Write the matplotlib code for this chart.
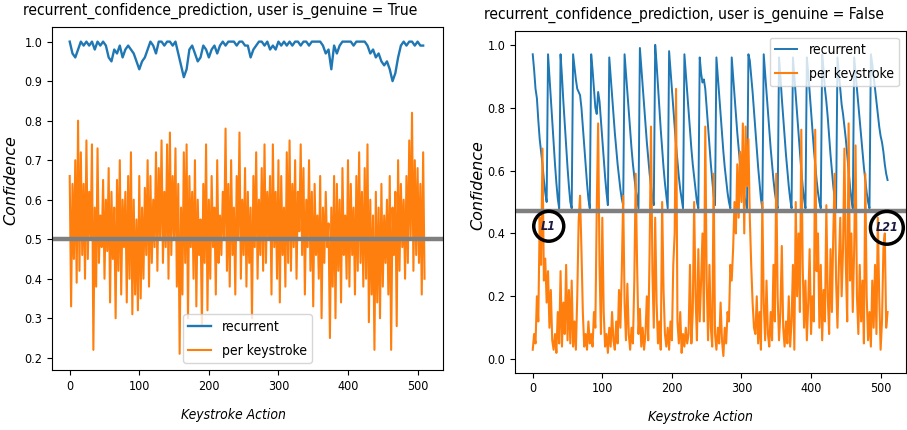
import numpy as np
import matplotlib
matplotlib.use("Agg")
import matplotlib.pyplot as plt

# ---------------- data ----------------
# left panel (user is_genuine = True)
left_recurrent = [
    1.00, 0.97, 0.96, 0.98, 1.00, 0.99, 1.00, 0.99, 1.00, 0.98, 1.00, 0.99, 1.00, 0.99, 0.96, 0.95,
    0.98, 0.97, 0.99, 0.96, 0.98, 0.99, 0.98, 0.97, 0.95, 0.93, 0.95, 0.96, 0.98, 1.00, 0.99, 0.97,
    1.00, 1.00, 0.99, 1.00, 1.00, 0.99, 1.00, 0.97, 0.94, 0.91, 0.93, 0.98, 0.99, 0.97, 0.95, 0.96,
    0.99, 0.98, 0.96, 0.98, 0.99, 0.97, 0.99, 1.00, 0.99, 1.00, 1.00, 1.00, 0.99, 1.00, 1.00, 0.99,
    0.99, 0.96, 0.98, 0.99, 1.00, 1.00, 0.99, 1.00, 0.98, 0.99, 0.98, 1.00, 0.99, 1.00, 0.99, 1.00,
    0.99, 1.00, 1.00, 0.99, 1.00, 1.00, 0.99, 1.00, 1.00, 1.00, 1.00, 0.99, 0.97, 0.98, 0.93, 0.99,
    0.97, 0.99, 1.00, 1.00, 1.00, 1.00, 0.99, 1.00, 1.00, 1.00, 1.00, 0.99, 0.97, 0.98, 0.96, 0.97,
    0.95, 0.94, 0.95, 0.93, 0.90, 0.92, 0.96, 0.99, 1.00, 0.99, 1.00, 1.00, 0.99, 1.00, 0.99, 0.99,
]
left_recurrent_step = 4

left_keystroke = [
    0.66, 0.33, 0.64, 0.45, 0.70, 0.39, 0.80, 0.42, 0.72, 0.46, 0.64, 0.40, 0.75, 0.45, 0.62, 0.50,
    0.74, 0.22, 0.58, 0.38, 0.73, 0.44, 0.56, 0.48, 0.65, 0.40, 0.60, 0.47, 0.68, 0.34, 0.62, 0.45,
    0.58, 0.30, 0.65, 0.42, 0.70, 0.36, 0.60, 0.48, 0.62, 0.34, 0.66, 0.40, 0.72, 0.31, 0.60, 0.36,
    0.55, 0.32, 0.66, 0.35, 0.58, 0.40, 0.63, 0.46, 0.70, 0.38, 0.66, 0.44, 0.60, 0.48, 0.72, 0.42,
    0.68, 0.50, 0.75, 0.44, 0.62, 0.48, 0.74, 0.40, 0.77, 0.46, 0.66, 0.50, 0.73, 0.38, 0.64, 0.21,
    0.58, 0.36, 0.72, 0.44, 0.74, 0.30, 0.66, 0.48, 0.62, 0.40, 0.70, 0.33, 0.60, 0.46, 0.55, 0.28,
    0.64, 0.44, 0.74, 0.32, 0.60, 0.40, 0.66, 0.48, 0.58, 0.36, 0.70, 0.44, 0.56, 0.46, 0.62, 0.50,
    0.78, 0.42, 0.64, 0.38, 0.70, 0.46, 0.58, 0.36, 0.66, 0.50, 0.77, 0.40, 0.60, 0.46, 0.68, 0.38,
    0.62, 0.44, 0.58, 0.30, 0.66, 0.48, 0.72, 0.40, 0.60, 0.46, 0.68, 0.42, 0.74, 0.44, 0.62, 0.50,
    0.66, 0.36, 0.74, 0.48, 0.62, 0.40, 0.70, 0.34, 0.66, 0.46, 0.58, 0.38, 0.72, 0.44, 0.75, 0.42,
    0.64, 0.48, 0.70, 0.40, 0.62, 0.52, 0.74, 0.46, 0.68, 0.36, 0.60, 0.48, 0.70, 0.42, 0.62, 0.33,
    0.64, 0.46, 0.56, 0.40, 0.66, 0.30, 0.58, 0.44, 0.62, 0.48, 0.54, 0.25, 0.58, 0.38, 0.66, 0.30,
    0.64, 0.42, 0.60, 0.34, 0.68, 0.46, 0.56, 0.40, 0.70, 0.38, 0.64, 0.46, 0.58, 0.36, 0.66, 0.42,
    0.72, 0.44, 0.62, 0.38, 0.68, 0.40, 0.74, 0.29, 0.60, 0.36, 0.56, 0.22, 0.62, 0.34, 0.58, 0.30,
    0.64, 0.38, 0.56, 0.44, 0.60, 0.36, 0.66, 0.22, 0.58, 0.46, 0.62, 0.28, 0.70, 0.42, 0.64, 0.48,
    0.60, 0.40, 0.66, 0.44, 0.75, 0.50, 0.82, 0.42, 0.70, 0.46, 0.68, 0.44, 0.64, 0.36, 0.72, 0.40,
]
left_keystroke_step = 2
left_threshold = 0.5

# right panel (user is_genuine = False)
right_recurrent = [
    0.97, 0.92, 0.86, 0.83, 0.76, 0.70, 0.66, 0.62, 0.57, 0.53, 0.50,
    0.97, 0.90, 0.83, 0.76, 0.69, 0.62, 0.56, 0.51, 0.48,
    0.97, 0.90, 0.82, 0.75, 0.68, 0.61, 0.55, 0.50, 0.48,
    0.97, 0.93, 0.89, 0.86, 0.85, 0.84, 0.80, 0.74, 0.68, 0.62, 0.56, 0.51, 0.48,
    0.97, 0.92, 0.86, 0.80, 0.78, 0.85, 0.82, 0.76, 0.70, 0.64, 0.58, 0.53, 0.49,
    0.96, 0.90, 0.84, 0.78, 0.72, 0.67, 0.62, 0.58, 0.54, 0.51, 0.49,
    0.97, 0.91, 0.85, 0.79, 0.73, 0.67, 0.62, 0.58, 0.54, 0.51, 0.48,
    0.99, 0.93, 0.87, 0.81, 0.75, 0.69, 0.64, 0.59, 0.55, 0.51, 0.49,
    1.00, 0.94, 0.87, 0.80, 0.73, 0.67, 0.61, 0.56, 0.52, 0.48,
    0.98, 0.92, 0.86, 0.80, 0.74, 0.68, 0.63, 0.58, 0.54, 0.51, 0.48,
    0.97, 0.91, 0.85, 0.79, 0.73, 0.67, 0.62, 0.58, 0.54, 0.50, 0.48,
    0.96, 0.91, 0.88, 0.89, 0.86, 0.80, 0.74, 0.68, 0.62, 0.57, 0.52, 0.49,
    0.96, 0.90, 0.84, 0.78, 0.72, 0.66, 0.61, 0.57, 0.53, 0.50, 0.48,
    0.96, 0.90, 0.84, 0.78, 0.72, 0.67, 0.62, 0.58, 0.55, 0.52, 0.50, 0.48,
    0.97, 0.95, 0.90, 0.85, 0.79, 0.73, 0.67, 0.61, 0.56, 0.51, 0.48,
    0.97, 0.91, 0.85, 0.79, 0.73, 0.67, 0.62, 0.57, 0.53, 0.50, 0.48,
    0.96, 0.90, 0.83, 0.77, 0.71, 0.65, 0.60, 0.55, 0.51, 0.48,
    0.96, 0.90, 0.84, 0.78, 0.72, 0.66, 0.60, 0.55, 0.51, 0.48,
    0.96, 0.91, 0.85, 0.79, 0.73, 0.67, 0.62, 0.57, 0.53, 0.50, 0.48,
    0.97, 0.92, 0.86, 0.82, 0.77, 0.71, 0.65, 0.60, 0.55, 0.51, 0.48,
    0.96, 0.91, 0.86, 0.81, 0.78, 0.74, 0.70, 0.65, 0.60, 0.55, 0.51, 0.48,
    0.96, 0.91, 0.86, 0.81, 0.76, 0.71, 0.66, 0.61, 0.57, 0.53, 0.50, 0.48,
    0.97, 0.94, 0.90, 0.86, 0.82, 0.78, 0.74, 0.71, 0.69, 0.66, 0.62, 0.59, 0.57,
]
right_recurrent_step = 2

right_keystroke = [
    0.03, 0.08, 0.05, 0.20, 0.12, 0.45, 0.30, 0.67, 0.25, 0.32, 0.18, 0.28, 0.10, 0.22, 0.06, 0.03,
    0.08, 0.02, 0.15, 0.05, 0.28, 0.04, 0.18, 0.08, 0.30, 0.06, 0.22, 0.05, 0.25, 0.04, 0.12, 0.03,
    0.20, 0.44, 0.52, 0.35, 0.15, 0.04, 0.08, 0.03, 0.12, 0.05, 0.08, 0.04, 0.15, 0.10, 0.48, 0.75,
    0.30, 0.08, 0.45, 0.15, 0.04, 0.08, 0.02, 0.10, 0.04, 0.15, 0.06, 0.03, 0.12, 0.05, 0.22, 0.10,
    0.28, 0.52, 0.18, 0.06, 0.24, 0.08, 0.03, 0.10, 0.05, 0.25, 0.59, 0.30, 0.08, 0.16, 0.04, 0.10,
    0.03, 0.08, 0.20, 0.06, 0.35, 0.74, 0.28, 0.10, 0.45, 0.18, 0.05, 0.12, 0.03, 0.50, 0.22, 0.08,
    0.04, 0.10, 0.03, 0.12, 0.06, 0.30, 0.40, 0.86, 0.12, 0.05, 0.15, 0.02, 0.08, 0.04, 0.10, 0.05,
    0.08, 0.30, 0.05, 0.15, 0.50, 0.20, 0.06, 0.35, 0.12, 0.25, 0.40, 0.12, 0.74, 0.25, 0.06, 0.30,
    0.10, 0.04, 0.59, 0.08, 0.03, 0.10, 0.05, 0.18, 0.06, 0.01, 0.10, 0.05, 0.15, 0.12, 0.30, 0.25,
    0.35, 0.50, 0.40, 0.62, 0.45, 0.66, 0.50, 0.75, 0.40, 0.74, 0.55, 0.70, 0.45, 0.30, 0.18, 0.10,
    0.08, 0.20, 0.05, 0.15, 0.03, 0.50, 0.18, 0.06, 0.25, 0.08, 0.04, 0.15, 0.06, 0.30, 0.12, 0.59,
    0.20, 0.06, 0.15, 0.36, 0.10, 0.04, 0.12, 0.05, 0.20, 0.04, 0.12, 0.30, 0.03, 0.50, 0.20, 0.40,
    0.15, 0.73, 0.30, 0.10, 0.25, 0.06, 0.18, 0.35, 0.08, 0.20, 0.12, 0.73, 0.28, 0.40, 0.10, 0.30,
    0.06, 0.22, 0.12, 0.49, 0.20, 0.08, 0.35, 0.15, 0.40, 0.59, 0.25, 0.10, 0.30, 0.45, 0.20, 0.35,
    0.67, 0.30, 0.12, 0.75, 0.25, 0.40, 0.15, 0.35, 0.68, 0.20, 0.08, 0.30, 0.12, 0.25, 0.05, 0.59,
    0.20, 0.06, 0.15, 0.04, 0.25, 0.10, 0.30, 0.08, 0.45, 0.20, 0.03, 0.12, 0.35, 0.40, 0.10, 0.15,
]
right_keystroke_step = 2
right_threshold = 0.472

series_labels = ["recurrent", "per keystroke"]
titles = ["recurrent_confidence_prediction, user is_genuine = True",
          "recurrent_confidence_prediction, user is_genuine = False"]
xlabel = "Keystroke Action"
ylabel = "Confidence"
circle_labels = ["L1", "L21"]
circle_x = [23, 509]
circle_y = [0.423, 0.418]

# ---------------- plot ----------------
plt.rcParams['font.family'] = ['DejaVu Sans']
plt.rcParams['font.stretch'] = 'condensed'
BLUE = '#1f77b4'
ORANGE = '#ff7f0e'
GRAY = '#7f7f7f'

fig = plt.figure(figsize=(9.07, 4.30), dpi=100)
axL = fig.add_axes([0.0573, 0.1395, 0.4311, 0.7977])
axR = fig.add_axes([0.5678, 0.1333, 0.4311, 0.7953])

# left
xl_r = np.arange(len(left_recurrent)) * left_recurrent_step
xl_k = np.arange(len(left_keystroke)) * left_keystroke_step
axL.plot(xl_r, left_recurrent, color=BLUE, lw=1.7, label=series_labels[0])
axL.plot(xl_k, left_keystroke, color=ORANGE, lw=1.5, label=series_labels[1])
axL.axhline(left_threshold, color=GRAY, lw=3.2)
axL.set_xlim(-25.5, 536.5)
axL.set_ylim(0.169, 1.037)
axL.set_yticks(np.arange(0.2, 1.01, 0.1))
axL.set_xticks(np.arange(0, 501, 100))
axL.legend(loc='lower center', fontsize=10, handlelength=1.6, labelspacing=0.7)

# right
xr_r = np.arange(len(right_recurrent)) * right_recurrent_step
xr_k = np.arange(len(right_keystroke)) * right_keystroke_step
axR.plot(xr_r, right_recurrent, color=BLUE, lw=1.4, label=series_labels[0])
axR.plot(xr_k, right_keystroke, color=ORANGE, lw=1.5, label=series_labels[1])
axR.axhline(right_threshold, color=GRAY, lw=3.2)
axR.set_xlim(-25.5, 536.5)
axR.set_ylim(-0.043, 1.045)
axR.set_yticks(np.arange(0.0, 1.01, 0.2))
axR.set_xticks(np.arange(0, 501, 100))
axR.legend(loc='upper right', fontsize=10, handlelength=1.6, labelspacing=0.7)

for lab, cx, cy, pad in zip(circle_labels, circle_x, circle_y, [0.6, 0.4]):
    axR.text(cx, cy, lab, ha='center', va='center', fontsize=9,
             fontstyle='italic', fontweight='bold', color='#1a1a40',
             bbox=dict(boxstyle=f'circle,pad={pad}', fc='none', ec='black', lw=2.5),
             zorder=5)

for ax, t, tx, lx, ly, xx, xy in [(axL, titles[0], 0.43, -0.087, 0.554, 0.465, -0.111),
                                   (axR, titles[1], 0.432, -0.077, 0.549, 0.474, -0.109)]:
    ax.set_title(t, fontsize=11.2, x=tx, pad=8.5)
    ax.set_ylabel(ylabel, fontsize=11.5, fontstyle='italic', fontstretch='normal')
    ax.set_xlabel(xlabel, fontsize=10, fontstyle='italic')
    ax.yaxis.set_label_coords(lx, ly)
    ax.xaxis.set_label_coords(xx, xy)
    ax.tick_params(labelsize=9)

fig.savefig('out.png', dpi=100)
